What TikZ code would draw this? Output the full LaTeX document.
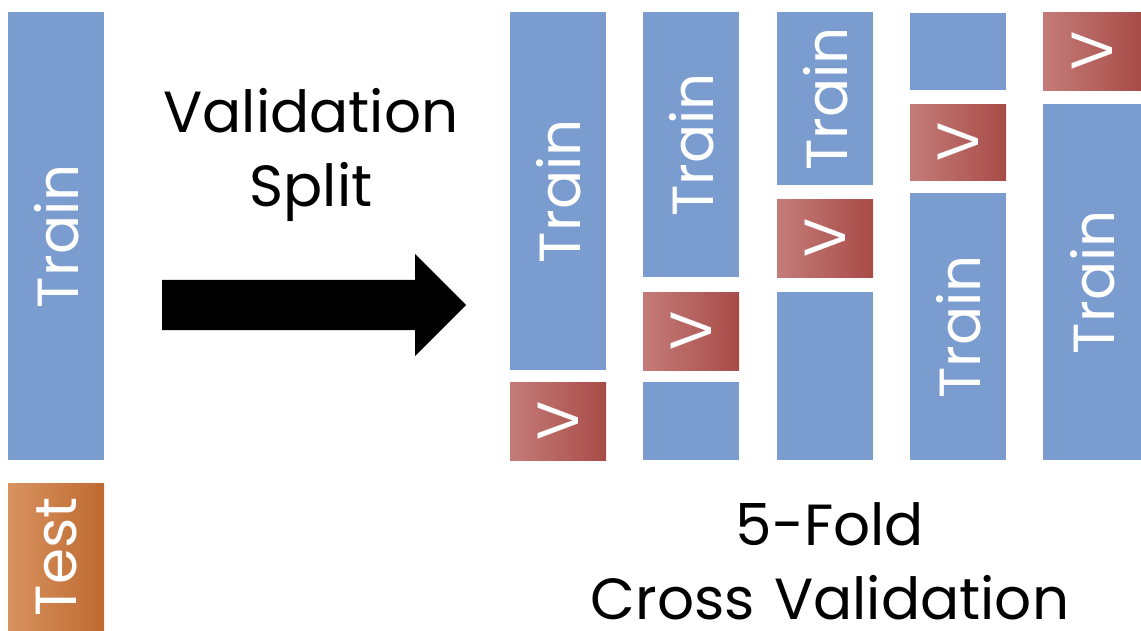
\documentclass[tikz,border=0pt]{standalone}
\usepackage{fontspec}
\setmainfont{Poppins}
\usetikzlibrary{positioning,shapes.arrows}
\definecolor{trainblue}{HTML}{7A9CCF}
\definecolor{vallight}{HTML}{C47C79}
\definecolor{valdark}{HTML}{A84B47}
\definecolor{testlight}{HTML}{D8925F}
\definecolor{testdark}{HTML}{BE6A31}
\tikzset{
  box/.style={anchor=north west,inner sep=0pt,minimum width=96pt},
  trainbox/.style={box,fill=trainblue},
  valbox/.style={box,minimum height=78pt,left color=vallight,right color=valdark},
  testbox/.style={box,left color=testlight,right color=testdark},
  boxtext/.style={rotate=90,text=white,inner sep=0pt,font=\fontsize{58}{60}\selectfont},
  caption/.style={align=center,inner sep=0pt,font=\fontsize{58}{74}\selectfont}
}
\begin{document}
\begin{tikzpicture}[x=1pt,y=-1pt]
  \useasboundingbox (0,0) rectangle (1141,630);
  % full data
  \node[trainbox,minimum height=448pt] (train) at (8,12) {};
  \node[boxtext] (traintxt) at (train.center) {Train};
  \node[testbox,minimum height=147pt] (test) at (8,483) {};
  \node[boxtext] (testtxt) at (test.center) {Test};
  % split
  \node[caption] (splittxt) at (311,155) {Validation\\Split};
  \node[single arrow,fill=black,inner xsep=0pt,inner ysep=25pt,minimum height=304pt,
    single arrow head extend=26pt,anchor=tail] (splitarrow) at (162,305) {};
  % fold 1
  \node[trainbox,minimum height=358pt] (f1t) at (510,12) {};
  \node[boxtext] (f1ttxt) at (f1t.center) {Train};
  \node[valbox] (f1v) at (510,382) {};
  \node[boxtext] (f1vtxt) at (f1v.center) {V};
  % fold 2
  \node[trainbox,minimum height=265pt] (f2t) at (643,12) {};
  \node[boxtext] (f2ttxt) at (f2t.center) {Train};
  \node[valbox] (f2v) at (643,292) {};
  \node[boxtext] (f2vtxt) at (f2v.center) {V};
  \node[trainbox,minimum height=78pt] (f2b) at (643,382) {};
  % fold 3
  \node[trainbox,minimum height=173pt] (f3t) at (777,12) {};
  \node[boxtext] (f3ttxt) at (f3t.center) {Train};
  \node[valbox] (f3v) at (777,199) {};
  \node[boxtext] (f3vtxt) at (f3v.center) {V};
  \node[trainbox,minimum height=168pt] (f3b) at (777,292) {};
  % fold 4
  \node[trainbox,minimum height=77pt] (f4t) at (910,13) {};
  \node[valbox,minimum height=76pt] (f4v) at (910,104) {};
  \node[boxtext] (f4vtxt) at (f4v.center) {V};
  \node[trainbox,minimum height=267pt] (f4b) at (910,193) {};
  \node[boxtext] (f4btxt) at (f4b.center) {Train};
  % fold 5
  \node[valbox,minimum height=78pt,minimum width=98pt] (f5v) at (1043,12) {};
  \node[boxtext] (f5vtxt) at (f5v.center) {V};
  \node[trainbox,minimum height=356pt,minimum width=98pt] (f5b) at (1043,104) {};
  \node[boxtext] (f5btxt) at (f5b.center) {Train};
  \node[caption,text width=500pt,anchor=south] (cvtxt) at (830,620) {5-Fold\\Cross Validation};
\end{tikzpicture}
\end{document}
